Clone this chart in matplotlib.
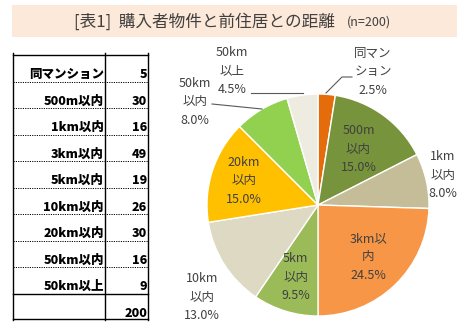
import matplotlib
matplotlib.use("Agg")
import matplotlib.pyplot as plt
import numpy as np
from matplotlib.patches import Rectangle

plt.rcParams['font.family'] = ['Noto Sans CJK JP', 'DejaVu Sans']

# ---- data ----
categories = ["同マンション", "500m以内", "1km以内", "3km以内", "5km以内",
              "10km以内", "20km以内", "50km以内", "50km以上"]
counts = [5, 30, 16, 49, 19, 26, 30, 16, 9]
total = 200
pie_labels = ["同マン\nション", "500m\n以内", "1km\n以内", "3km以\n内", "5km\n以内",
              "10km\n以内", "20km\n以内", "50km\n以内", "50km\n以上"]
title_main = "[表1]  購入者物件と前住居との距離"
title_sub = "(n=200)"

colors = ["#E46C0A", "#77933C", "#C4BD97", "#F79646", "#9BBB59",
          "#DDD9C3", "#FFC000", "#92D050", "#EEECE1"]

W, H = 463, 331
fig = plt.figure(figsize=(W / 100, H / 100), dpi=100)
ax = fig.add_axes([0, 0, 1, 1])

# pie (y axis inverted, so counterclock=True is visually clockwise)
cx, cy, R = 318, 205, 111
wedges, _ = ax.pie(counts, colors=colors, startangle=-90, counterclock=True,
                   center=(cx, cy), radius=R, frame=True,
                   wedgeprops=dict(edgecolor="white", linewidth=1))
ax.set_xlim(0, W)
ax.set_ylim(H, 0)
ax.axis("off")
ax.set_aspect("equal")

# title bar
ax.add_patch(Rectangle((12, 5), 445, 32, facecolor="#FDE9D9", edgecolor="none", zorder=0))
ax.text(74, 22, title_main, fontsize=12, color="#404040", va="center", ha="left")
ax.text(347, 22.5, title_sub, fontsize=9, color="#404040", va="center", ha="left")

# table
x0, x1, x2 = 13, 105, 148
top, row_h = 55, 26.5
ax.plot([x0, x2], [top, top], color="black", lw=1)
for xv in (x0, x1, x2):
    ax.plot([xv, xv], [53, 320], color="black", lw=1)
for i, (c, n) in enumerate(zip(categories, counts)):
    yc = top + row_h * (i + 0.72)
    ax.text(x1 - 1, yc, c, fontsize=9, fontweight="heavy", ha="right", va="center", color="black")
    ax.text(x2 - 1, yc, str(n), fontsize=9, fontweight="heavy", ha="right", va="center", color="black")
    yl = top + row_h * (i + 1)
    if i < len(categories) - 1:
        ax.plot([x0, x2], [yl, yl], color="black", lw=0.7, ls=(0, (1.2, 1.2)))
    else:
        ax.plot([x0, x2], [yl, yl], color="black", lw=1)
ax.text(x2 - 1, top + row_h * 9.72, str(total), fontsize=9, fontweight="heavy",
        ha="right", va="center")
ax.plot([x0, x2], [319, 319], color="black", lw=1)

pct = [100 * c / total for c in counts]
inside_dist = {1: 0.62, 3: 0.65, 4: 0.68, 6: 0.70}
outside_pos = {0: (373, 72), 2: (443, 175), 5: (202, 297), 7: (195, 102), 8: (232, 71)}
for i, w in enumerate(wedges):
    txt = f"{pie_labels[i]}\n{pct[i]:.1f}%"
    if i in inside_dist:
        ang = np.deg2rad((w.theta1 + w.theta2) / 2)
        d = inside_dist[i] * R
        tx, ty = cx + d * np.cos(ang), cy + d * np.sin(ang)
    else:
        tx, ty = outside_pos[i]
    ax.text(tx, ty, txt, fontsize=9, color="#404040", ha="center", va="center",
            linespacing=1.55)

# leader lines
ax.plot([326, 342, 352], [93, 77, 77], color="#595959", lw=0.8)
ax.plot([251, 303], [93, 93], color="#595959", lw=0.8)
ax.plot([212, 262], [104, 109], color="#595959", lw=0.8)

fig.savefig("out.png", dpi=100)
